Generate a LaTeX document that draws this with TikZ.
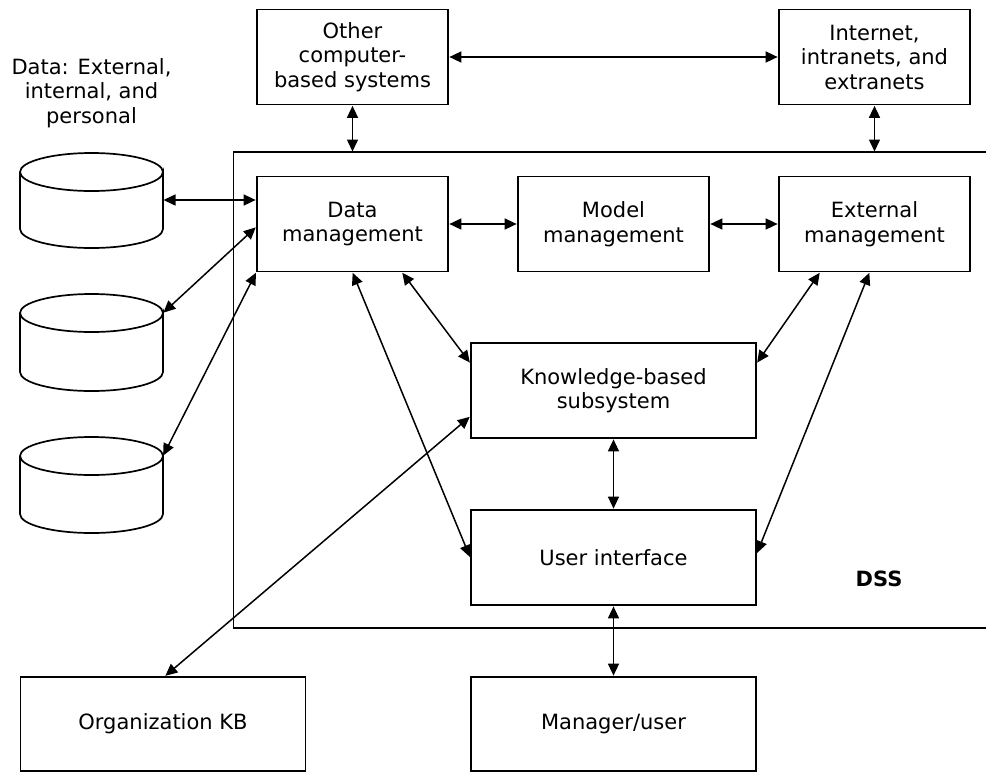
\documentclass[tikz,border=0pt]{standalone}
\usepackage{fontspec}
\setmainfont{DejaVu Sans}
\usetikzlibrary{arrows.meta}
\begin{document}
\begin{tikzpicture}[x=1pt,y=-1pt,
  line width=1.7pt,
  every node/.style={font=\fontsize{21}{24.5}\selectfont, align=center},
  blockbox/.style={draw, rectangle, inner sep=0pt, minimum width=#1, minimum height=95pt},
  blockbox/.default=191pt,
  link/.style={{Triangle[length=12pt,width=11pt]}-{Triangle[length=12pt,width=11pt]}, line width=1.5pt, shorten <=0.5pt, shorten >=0.5pt}
]
\useasboundingbox (0,0) rectangle (986,772);

% DSS frame (open to the right)
\draw (995,152) -- (233.5,152) -- (233.5,628) -- (995,628);
\node[font=\fontsize{21}{25}\selectfont\bfseries] (dss) at (879,579) {DSS};

% outside systems
\node[blockbox] (other) at (352.5,57) {Other\\computer-\\based systems};
\node[blockbox] (inet)  at (874.5,57) {Internet,\\intranets, and\\extranets};

% DSS components
\node[blockbox] (dm) at (352.5,224) {Data\\management};
\node[blockbox] (mm) at (613.5,224) {Model\\management};
\node[blockbox] (em) at (874.5,224) {External\\management};
\node[blockbox=285pt] (kb) at (613.5,390.5) {Knowledge-based\\subsystem};
\node[blockbox=285pt] (ui) at (613.5,557.5) {User interface};

% below the DSS
\node[blockbox=285pt, minimum height=94pt] (org) at (163,724) {Organization KB};
\node[blockbox=285pt, minimum height=94pt] (mgr) at (613.5,724) {Manager/user};

% data sources label and cylinders
\node (datalbl) at (91.5,93) {Data: External,\\internal, and\\personal};
\foreach \t/\b in {172/229, 313/372, 456/514}{
  \draw (20,\t) -- (20,\b) arc[start angle=180, end angle=0, x radius=71.5, y radius=19]
        -- (163,\t) arc[start angle=0, end angle=360, x radius=71.5, y radius=19];
}
\coordinate (c1) at (163,200);
\coordinate (c2) at (163,313);
\coordinate (c3) at (163,456);
\coordinate (topA) at (352.5,152);
\coordinate (topB) at (874.5,152);

% connectors
\draw[link] (other.east) -- (inet.west);
\draw[link] (other.south) -- (topA);
\draw[link] (inet.south) -- (topB);
\draw[link] (c1) -- (c1 -| dm.west);
\draw[link] (c2) -- ([yshift=-3pt]dm.west);
\draw[link] (c3) -- (dm.south west);
\draw[link] (dm.east) -- (mm.west);
\draw[link] (mm.east) -- (em.west);
\draw[link] (dm.south) -- (ui.west);
\draw[link] ([xshift=49.5pt]dm.south) -- ([yshift=27.5pt]kb.west);
\draw[link] ([xshift=2pt]org.north) -- ([yshift=-26pt]kb.west);
\draw[link] ([xshift=-54.5pt]em.south) -- ([yshift=27.5pt]kb.east);
\draw[link] ([xshift=-5pt]em.south) -- ([yshift=4pt]ui.east);
\draw[link] (kb.south) -- (ui.north);
\draw[link] (ui.south) -- (mgr.north);
\end{tikzpicture}
\end{document}
